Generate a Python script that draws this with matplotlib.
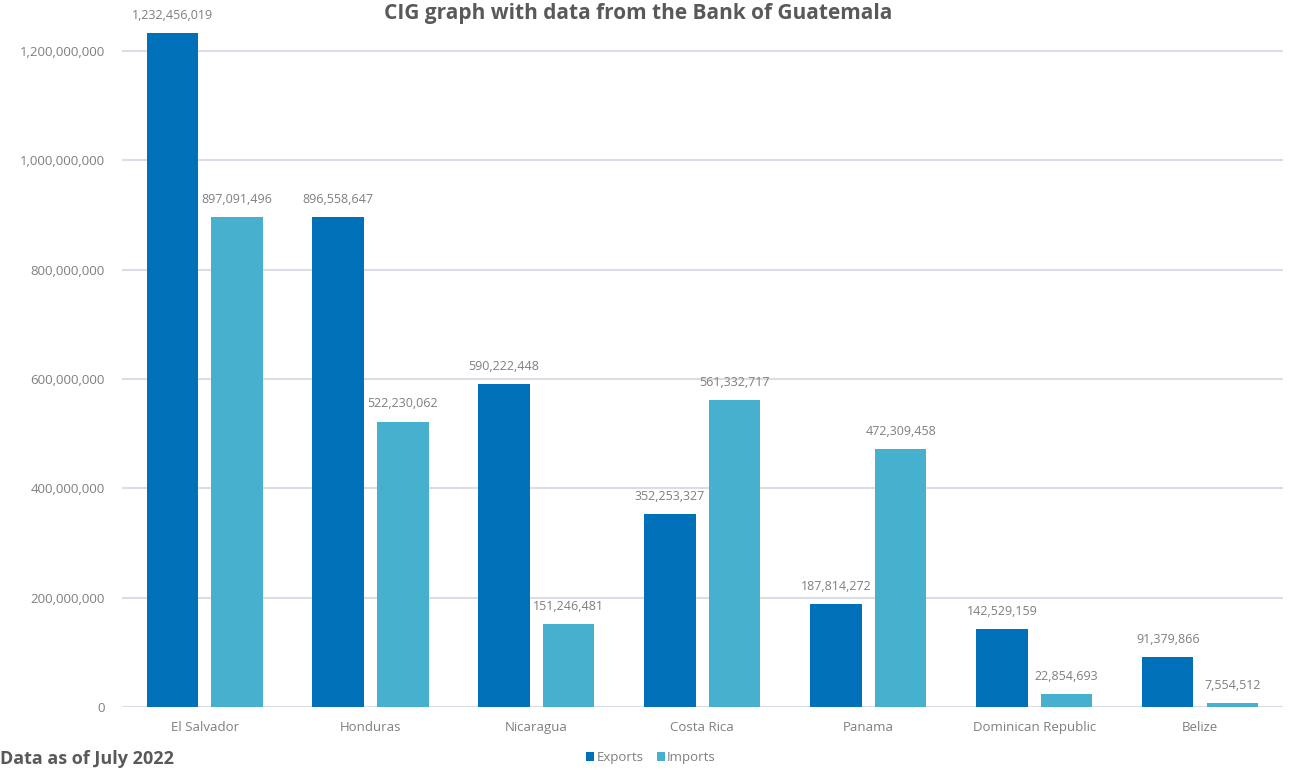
import numpy as np
import matplotlib.pyplot as plt
from matplotlib.ticker import FuncFormatter

# datos
countries = ["El Salvador", "Honduras", "Nicaragua", "Costa Rica", "Panama",
             "Dominican Republic", "Belize"]
exports = [1232456019, 896558647, 590222448, 352253327, 187814272, 142529159, 91379866]
imports = [897091496, 522230062, 151246481, 561332717, 472309458, 22854693, 7554512]

c_exp = "#0071B9"
c_imp = "#47B0CF"
gris = "#595959"
gris_claro = "#7F7F7F"

plt.rcParams["font.family"] = ["Open Sans", "DejaVu Sans"]

fig = plt.figure(figsize=(12.94, 7.7), dpi=100)
ax = fig.add_axes([0.094, 0.082, 0.8975, 0.887])

x = np.arange(len(countries))
w = 0.31
off = 0.195
b1 = ax.bar(x - off, exports, w, color=c_exp, label="Exports", zorder=3)
b2 = ax.bar(x + off, imports, w, color=c_imp, label="Imports", zorder=3)

for bars in (b1, b2):
    for b in bars:
        ax.annotate(f"{int(b.get_height()):,}", (b.get_x() + b.get_width() / 2, b.get_height()),
                    xytext=(0, 8), textcoords="offset points", ha="center", va="bottom",
                    fontsize=9, color=gris_claro)

ax.set_xlim(-0.5, len(countries) - 0.5)
ax.set_ylim(0, 1.25e9)
ax.set_yticks(np.arange(0, 1.3e9, 2e8))
ax.yaxis.set_major_formatter(FuncFormatter(lambda v, p: f"{int(v):,}"))
ax.set_xticks(x)
ax.set_xticklabels(countries)
ax.tick_params(length=0, colors=gris_claro, labelsize=9.5)
ax.tick_params(axis="x", pad=10)
ax.tick_params(axis="y", pad=12)
ax.grid(axis="y", color="#D9DEE6", linewidth=1.5, zorder=0)
for s in ax.spines.values():
    s.set_visible(False)

fig.text(0.493, 0.982, "CIG graph with data from the Bank of Guatemala", ha="center", va="center",
         fontsize=15, fontweight="bold", color=gris)
fig.text(0.0, 0.003, "Data as of July 2022", ha="left", va="bottom",
         fontsize=13, fontweight="bold", color=gris)

leg = fig.legend(loc="center", bbox_to_anchor=(0.503, 0.016), ncol=2, frameon=False,
                 fontsize=9.5, handlelength=0.6, handleheight=0.6, handletextpad=0.2,
                 columnspacing=1.0)
for t in leg.get_texts():
    t.set_color(gris_claro)

plt.savefig("out.png", dpi=100)
